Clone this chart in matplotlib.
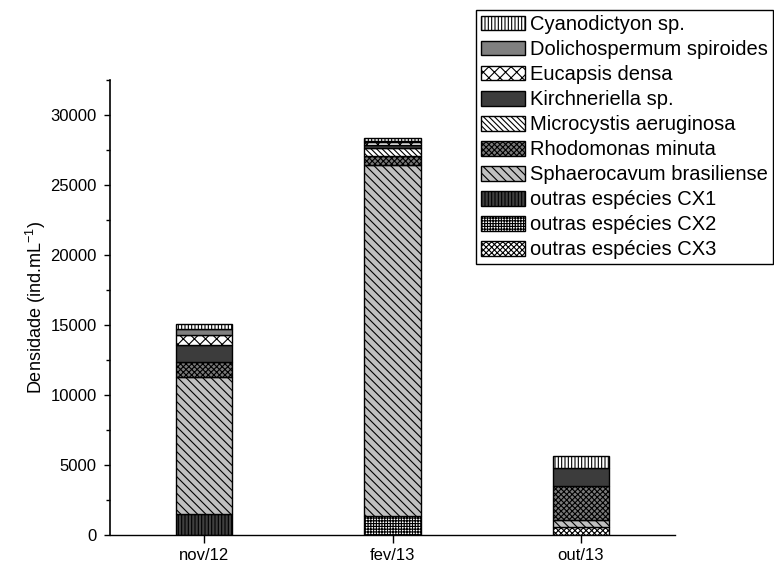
import matplotlib
matplotlib.use('Agg')
import matplotlib.pyplot as plt
from matplotlib.patches import Patch
from matplotlib.ticker import MultipleLocator

plt.rcParams['font.family'] = ['Liberation Sans', 'DejaVu Sans']
plt.rcParams['mathtext.fontset'] = 'custom'
plt.rcParams['mathtext.rm'] = 'Liberation Sans'
plt.rcParams['mathtext.it'] = 'Liberation Sans:italic'
plt.rcParams['hatch.linewidth'] = 0.8

# Sampling campaigns
periods = ['nov/12', 'fev/13', 'out/13']

# Density (ind.mL^-1) per taxon and campaign
cyanodictyon = [360, 200, 805]
dolichospermum = [425, 100, 0]
eucapsis = [715, 200, 0]
kirchneriella = [1190, 170, 1330]
microcystis = [0, 590, 0]
rhodomonas = [1065, 665, 2420]
sphaerocavum = [9785, 25045, 475]
outras_cx1 = [1500, 0, 0]
outras_cx2 = [0, 1375, 0]
outras_cx3 = [0, 0, 590]

# legend order (top to bottom); stacked in reverse (bottom to top)
series = [
    ('Cyanodictyon sp.', cyanodictyon, 'white', '|||||'),
    ('Dolichospermum spiroides', dolichospermum, '#808080', ''),
    ('Eucapsis densa', eucapsis, 'white', 'xxx'),
    ('Kirchneriella sp.', kirchneriella, '#3c3c3c', ''),
    ('Microcystis aeruginosa', microcystis, 'white', '\\' * 6),
    ('Rhodomonas minuta', rhodomonas, '#7a7a7a', 'xxxxxx'),
    ('Sphaerocavum brasiliense', sphaerocavum, '#c0c0c0', '\\' * 4),
    ('outras espécies CX1', outras_cx1, '#404040', '|||||'),
    ('outras espécies CX2', outras_cx2, 'white', '++++++'),
    ('outras espécies CX3', outras_cx3, 'white', 'xxxxxx'),
]

fig = plt.figure(figsize=(7.74, 5.66), dpi=100)
ax = fig.add_axes([110 / 774, 31 / 566, (675 - 110) / 774, (535 - 80) / 566])

x = [1, 2, 3]
bottom = [0.0, 0.0, 0.0]
for name, vals, fc, hatch in reversed(series):
    for i in range(3):
        if vals[i] > 0:
            ax.bar(x[i], vals[i], width=0.3, bottom=bottom[i], color=fc,
                   edgecolor='black', linewidth=1.0, hatch=hatch, zorder=2)
    bottom = [b + v for b, v in zip(bottom, vals)]

ax.set_xlim(0.5, 3.5)
ax.set_ylim(0, 32500)
ax.set_xticks(x)
ax.set_xticklabels(periods, fontsize=12)
ax.yaxis.set_major_locator(MultipleLocator(5000))
ax.yaxis.set_minor_locator(MultipleLocator(2500))
ax.tick_params(axis='y', which='major', direction='out', length=4.5, width=1.0,
               labelsize=12, pad=5)
ax.tick_params(axis='y', which='minor', direction='out', length=3, width=1.0)
ax.tick_params(axis='x', which='major', direction='out', length=6, width=1.0,
               pad=3)
ax.spines['top'].set_visible(False)
ax.spines['right'].set_visible(False)
ax.spines['left'].set_linewidth(1.2)
ax.spines['bottom'].set_linewidth(1.0)

ax.set_ylabel('Densidade (ind.mL$^{-1}$)', fontsize=13)
ax.yaxis.set_label_coords(-0.11, 0.5)

handles = [Patch(facecolor=fc, edgecolor='black', hatch=h, linewidth=1.0)
           for _, _, fc, h in series]
labels = [name for name, _, _, _ in series]
leg = fig.legend(handles, labels, loc='upper left',
                 bbox_to_anchor=(476 / 774, 1 - 10 / 566), fontsize=14.5,
                 frameon=True, fancybox=False, framealpha=1,
                 edgecolor='black', handlelength=2.2, handleheight=0.75,
                 handletextpad=0.25, labelspacing=0.3, borderpad=0.25,
                 borderaxespad=0)
leg.get_frame().set_linewidth(1.0)

fig.savefig('out.png', dpi=100)
